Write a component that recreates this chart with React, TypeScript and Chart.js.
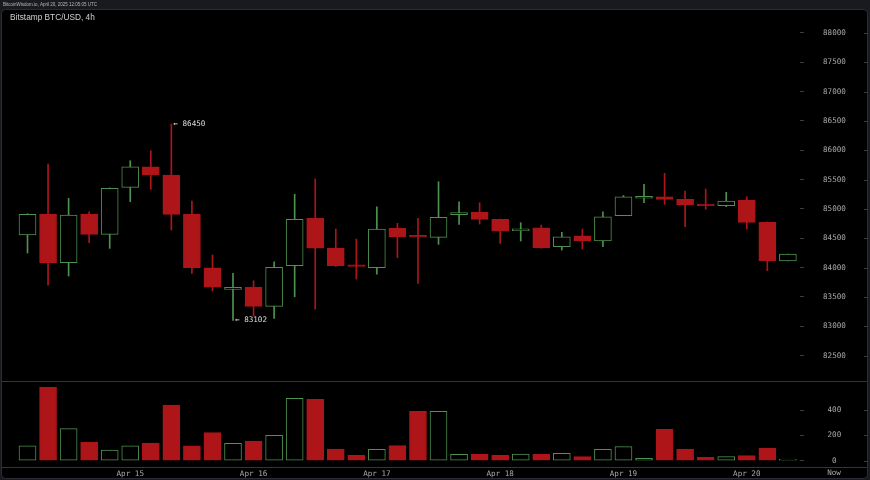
import React, { useEffect, useRef } from 'react';
import { Chart, registerables } from 'chart.js';

Chart.register(...registerables);

// ---- data ----
const candleTimes = [
  '04-14 04:00', '04-14 08:00', '04-14 12:00', '04-14 16:00', '04-14 20:00',
  '04-15 00:00', '04-15 04:00', '04-15 08:00', '04-15 12:00', '04-15 16:00', '04-15 20:00',
  '04-16 00:00', '04-16 04:00', '04-16 08:00', '04-16 12:00', '04-16 16:00', '04-16 20:00',
  '04-17 00:00', '04-17 04:00', '04-17 08:00', '04-17 12:00', '04-17 16:00', '04-17 20:00',
  '04-18 00:00', '04-18 04:00', '04-18 08:00', '04-18 12:00', '04-18 16:00', '04-18 20:00',
  '04-19 00:00', '04-19 04:00', '04-19 08:00', '04-19 12:00', '04-19 16:00', '04-19 20:00',
  '04-20 00:00', '04-20 04:00', '04-20 08:00',
];

const opens = [
  84556, 84909, 84084, 84914, 84568, 85369, 85720, 85579, 84909, 83998,
  83630, 83669, 83340, 84033, 84841, 84334, 84050, 83998, 84670, 84550,
  84517, 84905, 84943, 84824, 84630, 84680, 84356, 84544, 84454, 84885,
  85185, 85209, 85165, 85080, 85055, 85153, 84772, 84113,
];
const highs = [
  84920, 85766, 85182, 84953, 85360, 85823, 85993, 86450, 85136, 84215,
  83903, 83777, 84101, 85250, 85511, 84658, 84488, 85038, 84755, 84841,
  85465, 85124, 85107, 84830, 84766, 84726, 84602, 84658, 84953, 85230,
  85420, 85608, 85306, 85340, 85284, 85209, 84780, 84232,
];
const lows = [
  84250, 83703, 83857, 84425, 84329, 85124, 85335, 84641, 83903, 83601,
  83102, 83175, 83136, 83504, 83294, 84020, 83806, 83891, 84169, 83732,
  84397, 84738, 84743, 84414, 84454, 84330, 84300, 84317, 84356, 84885,
  85107, 85079, 84697, 84994, 85040, 84658, 83947, 84113,
];
const closes = [
  84909, 84084, 84897, 84568, 85352, 85720, 85579, 84909, 83998, 83669,
  83664, 83340, 84005, 84824, 84334, 84033, 84020, 84658, 84527, 84520,
  84858, 84940, 84824, 84624, 84660, 84339, 84527, 84454, 84868, 85209,
  85215, 85165, 85073, 85055, 85136, 84772, 84118, 84232,
];
const volumes = [
  117, 583, 254, 148, 85, 117, 140, 442, 117, 222,
  138, 156, 201, 495, 487, 93, 43, 90, 119, 392,
  392, 51, 51, 45, 53, 53, 59, 32, 90, 111,
  19, 249, 93, 27, 32, 40, 98, 12,
];

const priceTicks = [82500, 83000, 83500, 84000, 84500, 85000, 85500, 86000, 86500, 87000, 87500, 88000];
const volumeTicks = [0, 200, 400];
const dayTickIndex = [5, 11, 17, 23, 29, 35];
const dayTickLabels = ['Apr 15', 'Apr 16', 'Apr 17', 'Apr 18', 'Apr 19', 'Apr 20'];

const highMark = { index: 7, value: 86450 };
const lowMark = { index: 10, value: 83102 };

const RED = '#ad1519';
const GREEN = '#4f914f';
const MONO = '"DejaVu Sans Mono", monospace';

const clearPadding = (axis: any) => {
  axis.paddingTop = 0;
  axis.paddingBottom = 0;
  axis.paddingLeft = 0;
  axis.paddingRight = 0;
};

export default function App() {
  const ref = useRef<HTMLCanvasElement | null>(null);

  useEffect(() => {
    if (!ref.current) return;
    const up = opens.map((o, i) => closes[i] >= o);

    const framePlugin = {
      id: 'frame',
      beforeDraw(chart: any) {
        const ctx = chart.ctx;
        ctx.save();
        ctx.fillStyle = '#181a20';
        ctx.fillRect(0, 0, chart.width, chart.height);
        ctx.fillStyle = '#000000';
        ctx.strokeStyle = '#2a2d34';
        ctx.lineWidth = 1;
        ctx.beginPath();
        (ctx as any).roundRect(1.5, 9.5, 866, 469, 4);
        ctx.fill();
        ctx.stroke();
        ctx.fillStyle = '#b8b8b8';
        ctx.font = '4.5px "Liberation Sans", Arial, sans-serif';
        ctx.textBaseline = 'middle';
        ctx.fillText('BitcoinWisdom.io, April 20, 2025 12:05:05 UTC', 3, 4.5);
        ctx.strokeStyle = '#333338';
        ctx.beginPath();
        ctx.moveTo(2, 381.5);
        ctx.lineTo(867, 381.5);
        ctx.moveTo(2, 467.5);
        ctx.lineTo(867, 467.5);
        ctx.stroke();
        ctx.restore();
      },
      afterDraw(chart: any) {
        const ctx = chart.ctx;
        const xs = chart.scales.x;
        const ys = chart.scales.y;
        const yv = chart.scales.yv;
        ctx.save();
        ctx.fillStyle = '#d0d0d0';
        ctx.font = '8.3px "Liberation Sans", Arial, sans-serif';
        ctx.textBaseline = 'middle';
        ctx.textAlign = 'left';
        ctx.fillText('Bitstamp BTC/USD, 4h', 10, 17.5);

        ctx.font = '7.6px ' + MONO;
        ctx.fillStyle = '#dddddd';
        ctx.fillText('\u2190 ' + highMark.value, xs.getPixelForValue(highMark.index) + 2, ys.getPixelForValue(highMark.value));
        ctx.fillText('\u2190 ' + lowMark.value, xs.getPixelForValue(lowMark.index) + 2, ys.getPixelForValue(lowMark.value));

        ctx.fillStyle = '#a8a8a8';
        ctx.textAlign = 'center';
        ctx.fillText('Now', 834, 473.5);

        ctx.strokeStyle = '#3c3c40';
        ctx.beginPath();
        priceTicks.forEach((t) => {
          const p = Math.round(ys.getPixelForValue(t)) + 0.5;
          ctx.moveTo(864, p);
          ctx.lineTo(868, p);
        });
        volumeTicks.forEach((t) => {
          const p = Math.round(yv.getPixelForValue(t)) + 0.5;
          ctx.moveTo(864, p);
          ctx.lineTo(868, p);
        });
        ctx.stroke();
        ctx.restore();
      },
    };

    const chart = new Chart(ref.current, {
      type: 'bar',
      data: {
        datasets: [
          {
            label: 'wick',
            data: candleTimes.map((_, i) => ({ x: i, y: [lows[i], highs[i]] })) as any,
            backgroundColor: up.map((u) => (u ? GREEN : RED)),
            borderWidth: 0,
            barThickness: 1,
            grouped: false,
            yAxisID: 'y',
            order: 3,
          },
          {
            label: 'body',
            data: candleTimes.map((_, i) => ({ x: i, y: [opens[i], closes[i]] })) as any,
            backgroundColor: up.map((u) => (u ? '#000000' : RED)),
            borderColor: up.map((u) => (u ? GREEN : RED)),
            borderWidth: 1,
            borderSkipped: false,
            barThickness: 17,
            grouped: false,
            yAxisID: 'y',
            order: 2,
          },
          {
            label: 'volume',
            data: candleTimes.map((_, i) => ({ x: i, y: volumes[i] })) as any,
            backgroundColor: up.map((u) => (u ? '#000000' : RED)),
            borderColor: up.map((u) => (u ? GREEN : RED)),
            borderWidth: 1,
            borderSkipped: false,
            barThickness: 17,
            grouped: false,
            yAxisID: 'yv',
            order: 1,
          },
        ],
      },
      options: {
        animation: false,
        responsive: false,
        maintainAspectRatio: false,
        layout: { padding: { left: 2, top: 10, right: 0, bottom: 0 }, autoPadding: false },
        plugins: { legend: { display: false }, tooltip: { enabled: false }, title: { display: false } },
        scales: {
          x: {
            type: 'linear',
            offset: false,
            min: -1.241,
            max: 37.59,
            grid: { display: false, drawTicks: false },
            border: { display: false },
            afterBuildTicks: (axis: any) => {
              axis.ticks = dayTickIndex.map((v) => ({ value: v }));
            },
            afterFit: (axis: any) => {
              axis.height = 13;
              clearPadding(axis);
            },
            ticks: {
              autoSkip: false,
              maxRotation: 0,
              padding: 2,
              color: '#a8a8a8',
              font: { family: MONO, size: 7.6 },
              callback: (v: any) => {
                const k = dayTickIndex.indexOf(Number(v));
                return k >= 0 ? dayTickLabels[k] : '';
              },
            },
          },
          y: {
            type: 'linear',
            position: 'right',
            stack: 'panes',
            stackWeight: 371,
            min: 82068,
            max: 88392,
            grid: { drawOnChartArea: false, drawTicks: true, tickLength: 4, color: '#3c3c40' },
            border: { display: false },
            afterBuildTicks: (axis: any) => {
              axis.ticks = priceTicks.map((v) => ({ value: v }));
            },
            afterFit: (axis: any) => {
              axis.width = 70;
              clearPadding(axis);
            },
            ticks: {
              padding: 19,
              crossAlign: 'center',
              color: '#a8a8a8',
              font: { family: MONO, size: 7.6 },
              callback: (v: any) => String(v),
            },
          },
          yv: {
            type: 'linear',
            position: 'right',
            stack: 'panes',
            stackWeight: 86,
            min: -50,
            max: 632,
            grid: { drawOnChartArea: false, drawTicks: true, tickLength: 4, color: '#3c3c40' },
            border: { display: false },
            afterBuildTicks: (axis: any) => {
              axis.ticks = volumeTicks.map((v) => ({ value: v }));
            },
            afterFit: (axis: any) => {
              axis.width = 70;
              clearPadding(axis);
            },
            ticks: {
              padding: 23.5,
              crossAlign: 'center',
              color: '#a8a8a8',
              font: { family: MONO, size: 7.6 },
              callback: (v: any) => String(v),
            },
          },
        },
      } as any,
      plugins: [framePlugin],
    });

    return () => chart.destroy();
  }, []);

  return (
    <div style={{ position: 'fixed', left: 0, top: 0, width: 870, height: 480, background: '#000' }}>
      <canvas ref={ref} width={870} height={480} style={{ display: 'block', width: 870, height: 480 }} />
    </div>
  );
}
